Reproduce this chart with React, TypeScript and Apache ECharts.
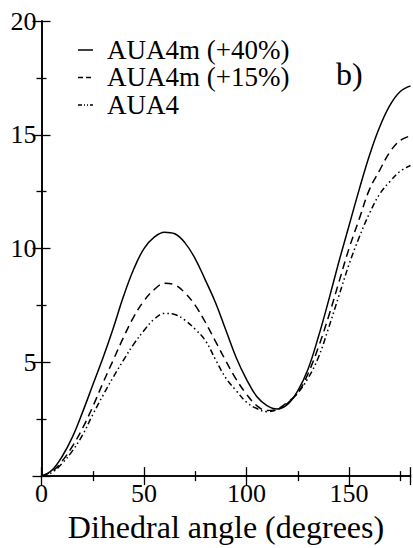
import React, { useEffect, useRef } from "react";
import * as echarts from "echarts";

const angles = [0, 5, 10, 15, 20, 25, 30, 35, 40, 45, 50, 55, 60, 65, 70, 75, 80, 85, 90, 95, 100, 105, 110, 115, 120, 125, 130, 135, 140, 145, 150, 155, 160, 165, 170, 175, 180];
const aua4m40 = [0, 0.25, 0.85, 1.7, 2.8, 4.0, 5.2, 6.5, 7.9, 9.1, 10.0, 10.5, 10.72, 10.65, 10.25, 9.55, 8.6, 7.6, 6.4, 5.2, 4.25, 3.5, 3.1, 2.95, 3.15, 3.75, 4.7, 6.1, 7.7, 9.4, 11.0, 12.6, 14.1, 15.35, 16.3, 16.9, 17.15];
const aua4m15 = [0, 0.2, 0.65, 1.3, 2.1, 3.05, 4.1, 5.1, 6.1, 7.0, 7.7, 8.2, 8.47, 8.4, 8.05, 7.5, 6.75, 5.9, 5.05, 4.25, 3.6, 3.1, 2.88, 2.95, 3.25, 3.65, 4.5, 5.65, 7.0, 8.5, 10.0, 11.3, 12.6, 13.45, 14.25, 14.75, 14.95];
const aua4 = [0, 0.15, 0.55, 1.1, 1.8, 2.7, 3.55, 4.35, 5.1, 5.8, 6.4, 6.9, 7.15, 7.1, 6.85, 6.45, 5.95, 5.1, 4.3, 3.75, 3.25, 2.97, 2.83, 2.92, 3.2, 3.65, 4.3, 5.2, 6.5, 7.9, 9.3, 10.5, 11.55, 12.4, 12.95, 13.4, 13.65];
const seriesNames = ["AUA4m (+40%)", "AUA4m (+15%)", "AUA4"];
const xTickLabels = ["0", "50", "100", "150"];
const yTickLabels = ["5", "10", "15", "20"];

const FONT = "Liberation Serif";
const DASHES: (number[] | null)[] = [null, [8, 5], [6, 3, 1.5, 3, 1.5, 3]];
const LEGEND_DASHES: (number[] | null)[] = [null, [5, 3], [4, 2, 1, 2, 1, 2]];

export default function App() {
  const ref = useRef<HTMLDivElement>(null);
  useEffect(() => {
    if (!ref.current) return;
    const chart = echarts.init(ref.current, undefined, { renderer: "svg" });
    const legendItems: any[] = [];
    seriesNames.forEach((n, i) => {
      const cy = 50 + i * 27.5;
      legendItems.push({
        type: "line",
        shape: { x1: 78, y1: cy, x2: 93, y2: cy },
        style: { stroke: "#000", lineWidth: 1.5, lineDash: LEGEND_DASHES[i] || [100, 0] },
      });
      legendItems.push({
        type: "text",
        x: 107,
        y: cy - 14,
        style: { text: n, font: "27px Liberation Serif", fill: "#000" },
      });
    });
    const tickStyle = { color: "#000", width: 1.3 };
    chart.setOption({
      animation: false,
      grid: { left: 41.5, right: 2.5, top: 21, bottom: 61 },
      graphic: [
        ...legendItems,
        { type: "text", x: 336, y: 58, style: { text: "b)", font: "32px Liberation Serif", fill: "#000" } },
      ],
      xAxis: [
        {
          type: "value",
          min: 0,
          max: 180,
          interval: 50,
          position: "bottom",
          name: "Dihedral angle (degrees)",
          nameLocation: "middle",
          nameGap: 27,
          nameTextStyle: { fontFamily: FONT, fontSize: 32, color: "#000" },
          axisLine: { show: true, lineStyle: { color: "#000", width: 1.6 } },
          axisTick: { show: true, inside: true, length: 9, lineStyle: tickStyle },
          minorTick: { show: true, splitNumber: 2, length: 5, lineStyle: tickStyle },
          splitLine: { show: false },
          axisLabel: {
            margin: 4,
            fontFamily: FONT,
            fontSize: 26,
            color: "#000",
            showMaxLabel: false,
            formatter: (v: number) => (xTickLabels.includes(String(v)) ? String(v) : ""),
          },
        },
        {
          type: "value",
          min: 0,
          max: 180,
          interval: 50,
          position: "top",
          axisLine: { show: true, lineStyle: { color: "#000", width: 1.6 } },
          axisTick: { show: true, inside: true, length: 9, lineStyle: tickStyle },
          minorTick: { show: true, splitNumber: 2, length: 5, lineStyle: tickStyle },
          splitLine: { show: false },
          axisLabel: { show: false },
        },
      ],
      yAxis: [
        {
          type: "value",
          min: 0,
          max: 20,
          interval: 5,
          position: "left",
          axisLine: { show: true, lineStyle: { color: "#000", width: 1.6 } },
          axisTick: { show: true, inside: true, length: 9, lineStyle: tickStyle },
          minorTick: { show: true, splitNumber: 2, length: 5, lineStyle: tickStyle },
          splitLine: { show: false },
          axisLabel: {
            margin: 5,
            fontFamily: FONT,
            fontSize: 26,
            color: "#000",
            showMinLabel: false,
            formatter: (v: number) => (yTickLabels.includes(String(v)) ? String(v) : ""),
          },
        },
        {
          type: "value",
          min: 0,
          max: 20,
          interval: 5,
          position: "right",
          axisLine: { show: true, lineStyle: { color: "#000", width: 1.6 } },
          axisTick: { show: true, inside: true, length: 9, lineStyle: tickStyle },
          minorTick: { show: true, splitNumber: 2, length: 5, lineStyle: tickStyle },
          splitLine: { show: false },
          axisLabel: { show: false },
        },
      ],
      series: [
        { type: "line", data: angles.map((a, i) => [a, aua4m40[i]]), symbol: "none", smooth: 0.4, lineStyle: { color: "#000", width: 1.5, type: "solid" } },
        { type: "line", data: angles.map((a, i) => [a, aua4m15[i]]), symbol: "none", smooth: 0.4, lineStyle: { color: "#000", width: 1.5, type: DASHES[1] } },
        { type: "line", data: angles.map((a, i) => [a, aua4[i]]), symbol: "none", smooth: 0.4, lineStyle: { color: "#000", width: 1.5, type: DASHES[2] } },
      ],
    });
    return () => chart.dispose();
  }, []);
  return <div ref={ref} style={{ width: 413, height: 548, position: "absolute", left: 0, top: 0 }} />;
}
